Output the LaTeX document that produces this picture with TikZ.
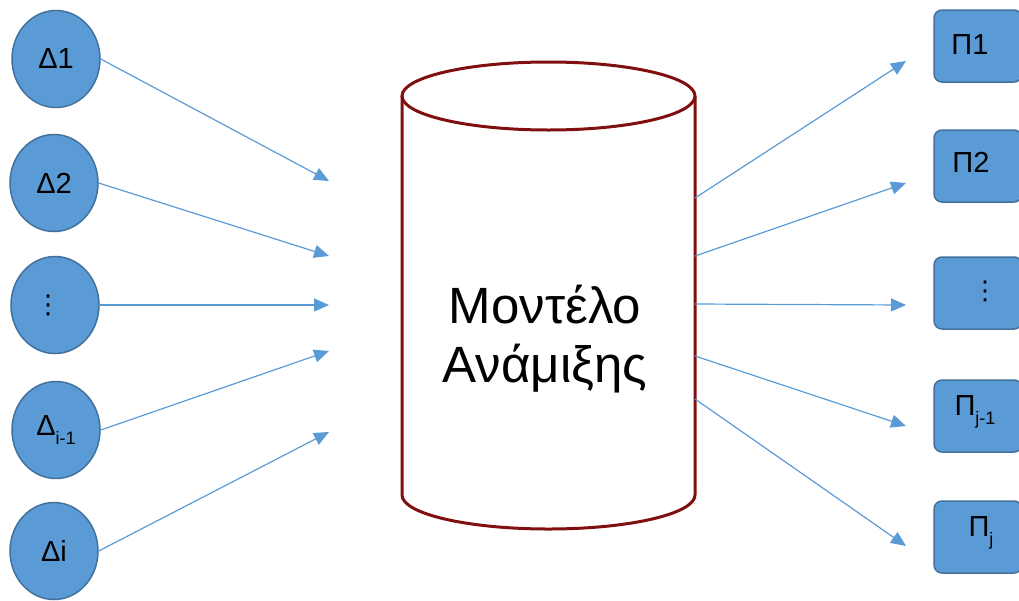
\documentclass[tikz,border=0pt]{standalone}
\usepackage{fontspec}
\setmainfont{Liberation Sans}
\newfontfamily\dotfont{DejaVu Sans}
\usetikzlibrary{arrows.meta,shapes.geometric}
\definecolor{officeblue}{RGB}{91,155,213}
\definecolor{blueedge}{RGB}{65,113,156}
\definecolor{drumred}{RGB}{128,16,16}
\newcommand{\lowtxt}[1]{\raisebox{-0.3em}{\fontsize{18}{18}\selectfont #1}}
\newcommand{\dotsym}{{\dotfont\fontsize{26}{26}\selectfont ⋮}}
\tikzset{
  dnode/.style={ellipse, draw=blueedge, fill=officeblue, line width=1.5pt,
    minimum width=88pt, minimum height=97pt, inner sep=0pt,
    font=\fontsize{29}{30}\selectfont},
  pbox/.style={draw=blueedge, fill=officeblue, line width=1.5pt,
    rounded corners=8pt, minimum width=88pt, minimum height=72pt, inner sep=0pt},
  plabel/.style={inner sep=0pt, font=\fontsize{29}{30}\selectfont},
  flow/.style={draw=officeblue, line width=1.2pt, -{Triangle[length=15pt,width=13pt]}}
}
\begin{document}
\begin{tikzpicture}[x=1pt, y=-1pt]
  \useasboundingbox (0,0) rectangle (1019,600);
  % Eingaben links
  \node[dnode] (d1) at (56,59) {Δ1};
  \node[dnode] (d2) at (54,183) {Δ2};
  \node[dnode] (d3) at (55,305) {\dotsym\hspace*{14pt}};
  \node[dnode] (d4) at (56,430) {Δ\lowtxt{i-1}};
  \node[dnode] (d5) at (54,551) {Δi};
  % Ausgaben rechts
  \node[pbox] (p1) at (978,46) {};
  \node[pbox] (p2) at (978,166) {};
  \node[pbox] (p3) at (978,293) {};
  \node[pbox] (p4) at (978,416) {};
  \node[pbox] (p5) at (978,537) {};
  \node[plabel] (p1t) at (970,45) {Π1};
  \node[plabel] (p2t) at (971,162) {Π2};
  \node[plabel] (p3t) at (985,291) {\dotsym};
  \node[plabel] (p4t) at (975,412) {Π\lowtxt{j-1}};
  \node[plabel] (p5t) at (981,533) {Π\lowtxt{j}};
  % Zylinder
  \draw[drumred, line width=3pt] (548.5,96) ellipse [x radius=146.5, y radius=34];
  \draw[drumred, line width=3pt] (402,96) -- (402,495)
    arc[start angle=180, end angle=0, x radius=146.5, y radius=34] -- (695,96);
  \node[align=center, font=\fontsize{51}{59}\selectfont] (model) at (545,339)
    {Μοντέλο\\Ανάμιξης};
  % Pfeilenden
  \coordinate (a1) at (329,181);
  \coordinate (a2) at (329,256);
  \coordinate (a3) at (329,305);
  \coordinate (a4) at (329,351);
  \coordinate (a5) at (329,432);
  \coordinate (m1) at (695,198);
  \coordinate (m2) at (695,256);
  \coordinate (m3) at (695,304);
  \coordinate (m4) at (695,356);
  \coordinate (m5) at (695,399);
  \coordinate (b1) at (906,61);
  \coordinate (b2) at (906,183);
  \coordinate (b3) at (906,305);
  \coordinate (b4) at (906,426);
  \coordinate (b5) at (906,546);
  \draw[flow] (d1.east) -- (a1);
  \draw[flow] (d2.east) -- (a2);
  \draw[flow] (d3.east) -- (a3);
  \draw[flow] (d4.east) -- (a4);
  \draw[flow] (d5.east) -- (a5);
  \draw[flow] (m1) -- (b1);
  \draw[flow] (m2) -- (b2);
  \draw[flow] (m3) -- (b3);
  \draw[flow] (m4) -- (b4);
  \draw[flow] (m5) -- (b5);
\end{tikzpicture}
\end{document}
